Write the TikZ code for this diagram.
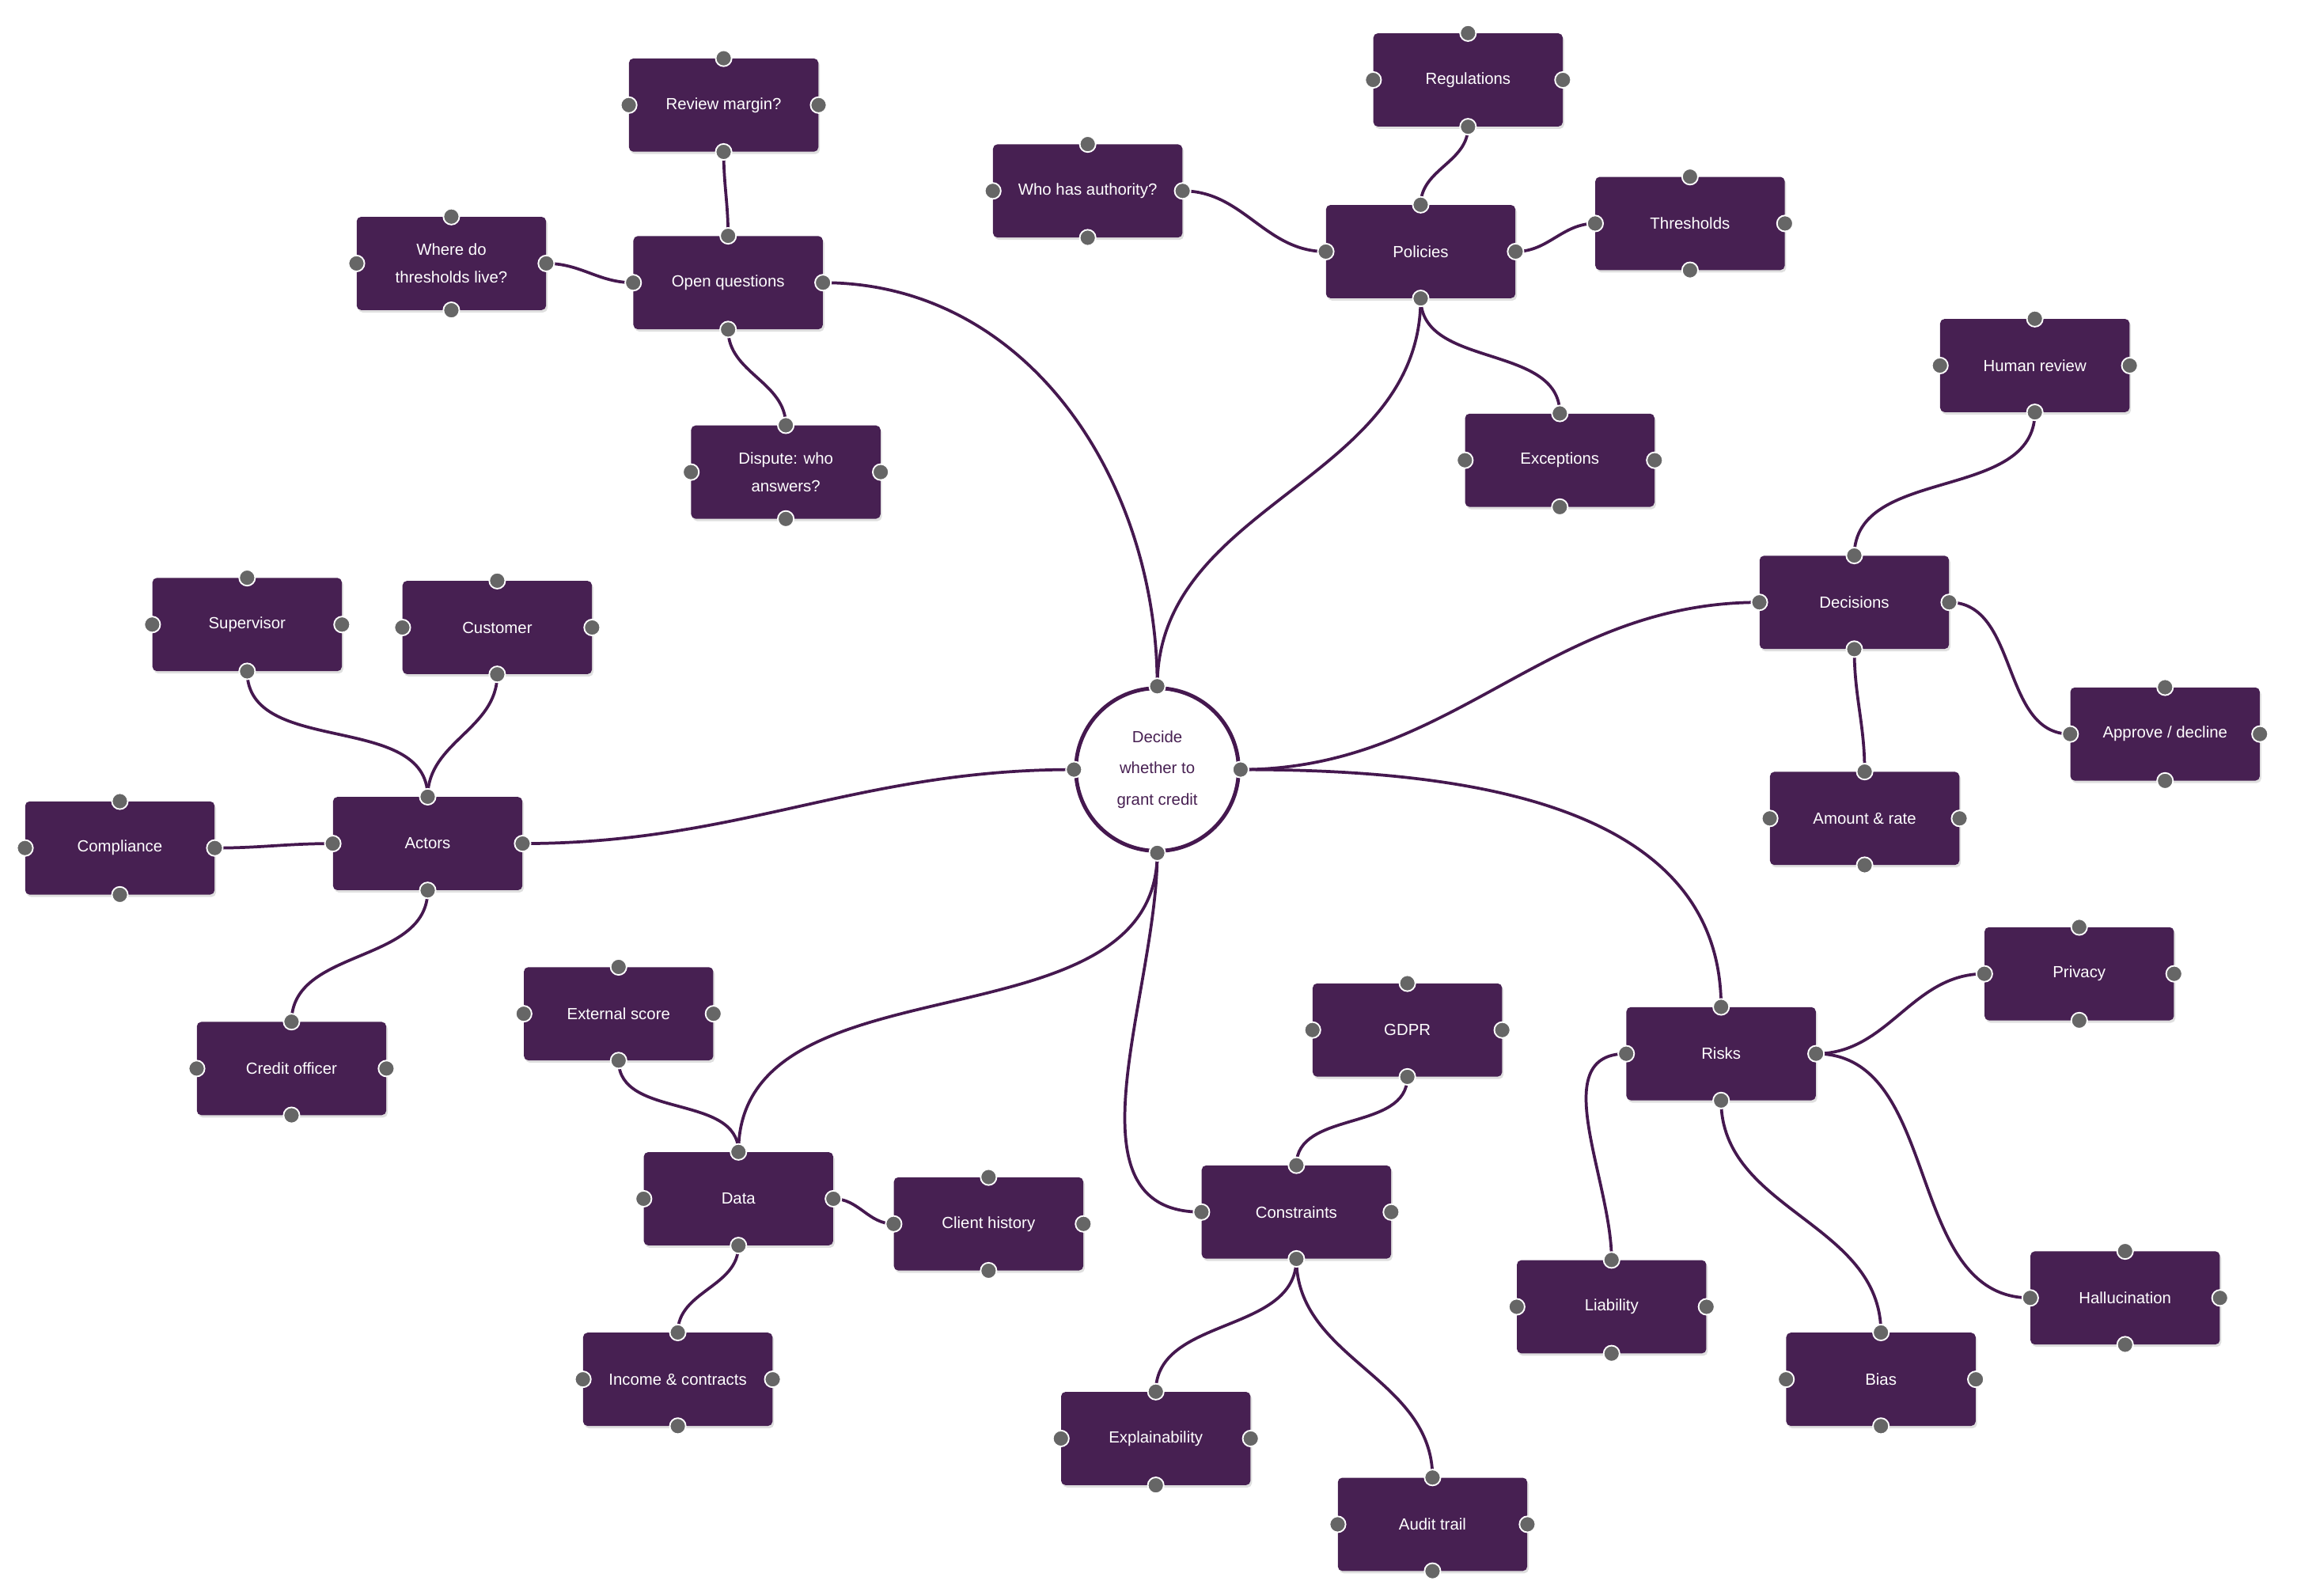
\documentclass[tikz,border=0pt]{standalone}
\usepackage{fontspec}
\setmainfont{Liberation Sans}
\usetikzlibrary{shadows}
\definecolor{boxc}{HTML}{472052}
\definecolor{linec}{HTML}{45184F}
\definecolor{handc}{HTML}{666666}
\begin{document}
\begin{tikzpicture}[x=0.05cm,y=-0.05cm,
  box/.style={rectangle,rounded corners=0.15cm,fill=boxc,text=white,minimum width=6.4cm,minimum height=3.15cm,align=center,font=\fontsize{15.5}{27}\selectfont,drop shadow={opacity=0.25,shadow xshift=0.05cm,shadow yshift=-0.08cm}},
  hub/.style={circle,draw=linec,line width=0.13cm,fill=white,text=boxc,minimum size=5.5cm,align=center,font=\fontsize{15.5}{30}\selectfont,drop shadow={opacity=0.2,shadow xshift=0cm,shadow yshift=-0.05cm}},
  link/.style={draw=linec,line width=0.1cm},
  handle/.style={fill=handc,draw=white,line width=0.05cm}]
\useasboundingbox (0,0) rectangle (1565,1078);
\node[hub] (c) at (782,520) {Decide\\whether to\\grant credit};
\node[box] (rm) at (489,71) {Review margin?};
\node[box] (wd) at (305,178) {Where do\\thresholds live?};
\node[box] (oq) at (492,191) {Open questions};
\node[box] (dw) at (531,319) {Dispute: who\\answers?};
\node[box] (wh) at (735,129) {Who has authority?};
\node[box] (rg) at (992,54) {Regulations};
\node[box] (po) at (960,170) {Policies};
\node[box] (th) at (1142,151) {Thresholds};
\node[box] (ex) at (1054,311) {Exceptions};
\node[box] (hr) at (1375,247) {Human review};
\node[box] (de) at (1253,407) {Decisions};
\node[box] (ap) at (1463,496) {Approve / decline};
\node[box] (am) at (1260,553) {Amount \& rate};
\node[box] (su) at (167,422) {Supervisor};
\node[box] (cu) at (336,424) {Customer};
\node[box] (co) at (81,573) {Compliance};
\node[box] (ac) at (289,570) {Actors};
\node[box] (cr) at (197,722) {Credit officer};
\node[box] (es) at (418,685) {External score};
\node[box] (da) at (499,810) {Data};
\node[box] (ch) at (668,827) {Client history};
\node[box] (ic) at (458,932) {Income \& contracts};
\node[box] (gd) at (951,696) {GDPR};
\node[box] (cs) at (876,819) {Constraints};
\node[box] (xp) at (781,972) {Explainability};
\node[box] (at) at (968,1030) {Audit trail};
\node[box] (ri) at (1163,712) {Risks};
\node[box] (pr) at (1405,658) {Privacy};
\node[box] (li) at (1089,883) {Liability};
\node[box] (bi) at (1271,932) {Bias};
\node[box] (ha) at (1436,877) {Hallucination};
\begin{scope}[on background layer/.style={}]
\end{scope}
\path[link] (c.north) to[out=90,in=0] (oq.east);
\path[link] (c.north) to[out=90,in=-90] (po.south);
\path[link] (c.east) to[out=0,in=180] (de.west);
\path[link] (c.east) to[out=0,in=90] (ri.north);
\path[link] (c.south) to[out=-90,in=90] (da.north);
\path[link] (c.south) to[out=-90,in=180] (cs.west);
\path[link] (c.west) to[out=180,in=0] (ac.east);
\path[link] (oq.north) to[out=90,in=-90] (rm.south);
\path[link] (oq.west) to[out=180,in=0] (wd.east);
\path[link] (oq.south) to[out=-90,in=90] (dw.north);
\path[link] (po.west) to[out=180,in=0] (wh.east);
\path[link] (po.north) to[out=90,in=-90] (rg.south);
\path[link] (po.east) to[out=0,in=180] (th.west);
\path[link] (po.south) to[out=-90,in=90] (ex.north);
\path[link] (de.north) to[out=90,in=-90] (hr.south);
\path[link] (de.east) to[out=0,in=180] (ap.west);
\path[link] (de.south) to[out=-90,in=90] (am.north);
\path[link] (ac.north) to[out=90,in=-90] (su.south);
\path[link] (ac.north) to[out=90,in=-90] (cu.south);
\path[link] (ac.west) to[out=180,in=0] (co.east);
\path[link] (ac.south) to[out=-90,in=90] (cr.north);
\path[link] (da.north) to[out=90,in=-90] (es.south);
\path[link] (da.east) to[out=0,in=180] (ch.west);
\path[link] (da.south) to[out=-90,in=90] (ic.north);
\path[link] (cs.north) to[out=90,in=-90] (gd.south);
\path[link] (cs.south) to[out=-90,in=90] (xp.north);
\path[link] (cs.south) to[out=-90,in=90] (at.north);
\path[link] (ri.east) to[out=0,in=180] (pr.west);
\path[link] (ri.east) to[out=0,in=180] (ha.west);
\path[link] (ri.south) to[out=-90,in=90] (bi.north);
\path[link] (ri.west) to[out=180,in=90] (li.north);
\foreach \n in {c,rm,wd,oq,dw,wh,rg,po,th,ex,hr,de,ap,am,su,cu,co,ac,cr,es,da,ch,ic,gd,cs,xp,at,ri,pr,li,bi,ha}{
  \foreach \a in {north,south,east,west}{
    \path[handle] (\n.\a) circle (0.27cm);
  }
}
\end{tikzpicture}
\end{document}
